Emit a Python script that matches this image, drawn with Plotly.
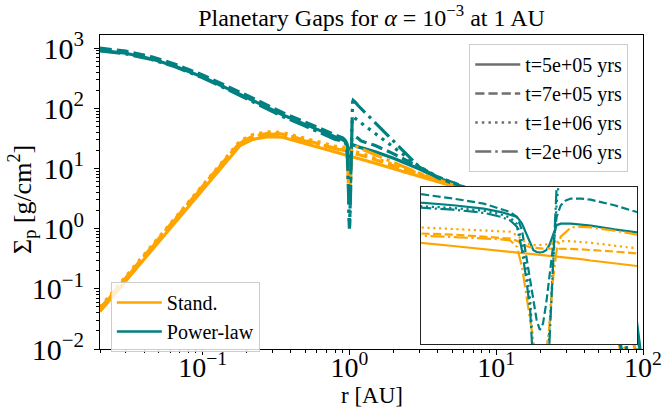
import numpy as np
import plotly.graph_objects as go

# ---------------- data ----------------
R = [0.02, 0.03, 0.045, 0.065, 0.1, 0.14, 0.18, 0.22, 0.28, 0.35, 0.5, 0.65,
     0.8, 0.85, 0.9, 0.93, 0.946, 0.958, 0.967, 0.975, 0.982, 0.988, 0.994, 1.0,
     1.006, 1.012, 1.018, 1.025, 1.032, 1.04, 1.05, 1.06, 1.08, 1.1, 1.15, 1.2,
     1.5, 2.0, 3.0, 4.0, 5.5, 8, 12, 20, 30, 45, 60, 70, 80, 90, 100]

TIMES = ["t=5e+05 yrs", "t=7e+05 yrs", "t=1e+06 yrs", "t=2e+06 yrs"]
MODELS = ["Stand.", "Power-law"]

# Standard model (orange)
STAND_T1 = [0.042, 0.136, 0.44, 1.28, 4.47, 11.8, 24.0, 30.5, 33.8, 33.0, 26.0, 22.0,
            19.1, 18.3, 17.6, 17.2, 16.9, 16.8, 16.7, 16.6, 16.5, 16.4, 16.4, 16.3,
            16.2, 16.1, 16.1, 16.0, 15.9, 15.8, 15.7, 15.6, 15.4, 15.1, 14.7, 14.3,
            12.2, 9.9, 7.3, 6.0, 4.8, 3.5, 2.4, 1.35, 0.8, 0.42, 0.22, 0.13, 0.07, 0.025, 0.004]
STAND_T2 = [0.047, 0.154, 0.50, 1.45, 5.05, 13.3, 27.0, 34.5, 38.2, 37.3, 29.4, 24.9,
            21.6, 21.3, 20.7, 20.4, 20.2, 19.6, 18.8, 18.3, 18.0, 17.9, 17.8, 17.8,
            17.7, 17.7, 17.7, 17.7, 17.7, 17.7, 17.6, 17.6, 17.5, 17.4, 17.0, 16.6,
            14.0, 11.0, 7.8, 6.3, 4.95, 3.55, 2.4, 1.3, 0.78, 0.38, 0.18, 0.08, 0.03, 0.008, 0.002]
STAND_T3 = [0.050, 0.163, 0.53, 1.54, 5.36, 14.2, 28.8, 36.6, 40.5, 39.6, 31.2, 26.4,
            23.4, 23.0, 22.6, 22.3, 22.1, 21.1, 19.9, 19.0, 18.7, 18.5, 18.5, 18.5,
            18.6, 18.7, 18.8, 19.0, 19.3, 19.5, 19.5, 19.5, 19.3, 19.1, 18.4, 17.9,
            14.8, 11.5, 8.0, 6.4, 5.0, 3.55, 2.4, 1.3, 0.75, 0.35, 0.11, 0.025, 0.005, 0.002, 0.001]
STAND_T4 = [0.046, 0.150, 0.48, 1.41, 4.9, 13.0, 26.4, 33.5, 37.2, 36.3, 28.6, 24.2,
            21.0, 20.6, 20.3, 20.0, 19.7, 18.1, 13.9, 9.35, 6.3, 4.5, 3.5, 3.0,
            3.2, 4.5, 6.3, 11.7, 17.3, 20.7, 22.1, 23.4, 23.6, 23.4, 22.4, 21.3,
            17.0, 12.5, 8.3, 6.5, 5.0, 3.5, 2.35, 1.25, 0.7, 0.3, 0.07, 0.01, 0.002, 0.001, 0.0008]

# Power-law model (teal)
POWER_T1 = [920, 820, 660, 500, 330, 230, 170, 135, 100, 78, 54, 41,
            32.5, 31.4, 30.0, 28.7, 27.5, 26.9, 24.6, 21.6, 19.3, 17.3, 16.9, 16.8,
            16.9, 17.3, 18.5, 21.1, 24.1, 24.6, 24.6, 24.6, 24.3, 24.0, 22.8, 22.1,
            19.0, 14.8, 9.8, 7.0, 5.3, 3.7, 2.5, 1.4, 0.85, 0.45, 0.25, 0.15, 0.08, 0.03, 0.004]
POWER_T2 = [1000, 890, 715, 540, 358, 250, 185, 147, 109, 85, 59, 44.5,
            36.3, 34.3, 32.1, 30.0, 28.7, 26.9, 22.6, 15.9, 11.7, 8.56, 6.87, 6.02,
            6.57, 8.56, 12.2, 18.1, 26.9, 31.4, 33.5, 34.3, 34.3, 33.8, 31.4, 28.7,
            24.0, 17.5, 10.5, 7.2, 5.4, 3.7, 2.5, 1.35, 0.8, 0.4, 0.2, 0.1, 0.04, 0.01, 0.002]
POWER_T3 = [930, 830, 665, 500, 330, 228, 168, 132, 97, 75, 52, 39.5,
            31.0, 30.3, 29.2, 27.8, 26.6, 24.5, 19.5, 13.5, 9.0, 4.5, 2.0, 1.3,
            1.5, 2.5, 6.0, 15.0, 32.0, 55.0, 68.0, 72.0, 69.5, 67.3, 62.0, 57.4,
            38.0, 22.5, 10.7, 7.2, 5.4, 3.6, 2.4, 1.3, 0.75, 0.35, 0.12, 0.03, 0.006, 0.002, 0.001]
POWER_T4 = [900, 800, 645, 488, 322, 222, 163, 128, 94, 73, 50.5, 38.5,
            30.4, 29.6, 28.4, 26.9, 25.7, 23.6, 17.3, 11.7, 7.84, 3.5, 1.5, 1.0,
            1.2, 2.0, 5.0, 16.6, 40.0, 80.0, 125.0, 135.0, 131.0, 125.0, 110.0, 99.0,
            57.5, 28.4, 10.5, 7.0, 5.3, 3.5, 2.3, 1.2, 0.7, 0.3, 0.08, 0.012, 0.003, 0.001, 0.0008]

X_TICKS = [0.1, 1, 10, 100]
X_TICKTEXT = ["10<sup>−1</sup>", "10<sup>0</sup>", "10<sup>1</sup>", "10<sup>2</sup>"]
Y_TICKS = [0.01, 0.1, 1, 10, 100, 1000]
Y_TICKTEXT = ["10<sup>−2</sup>", "10<sup>−1</sup>", "10<sup>0</sup>", "10<sup>1</sup>",
              "10<sup>2</sup>", "10<sup>3</sup>"]

TITLE = "Planetary Gaps for <i>α</i> = 10<sup>−3</sup> at 1 AU"
XLABEL = "r [AU]"
YLABEL = "Σ<sub>p</sub> [g/cm<sup>2</sup>]"

# ---------------- style ----------------
FONT = "Liberation Serif"
ORANGE = "#FFA500"
TEAL = "#008080"
GREY = "#6f6f6f"
LW = 3.2
LW_IN = 2.2


def dash_for(i, lw):
    pats = [None, (3.7, 1.6), (1.0, 1.65), (6.4, 1.6, 1.0, 1.6)]
    p = pats[i]
    if p is None:
        return "solid"
    return ",".join(f"{v * lw:.1f}px" for v in p)


XR_MAIN = [np.log10(0.02), 2.0]
YR_MAIN = [-2.0, np.log10(1650)]
XR_IN = [0.8, 1.2]
YR_IN = [5.0, 40.0]

fig = go.Figure()

stand = [STAND_T1, STAND_T2, STAND_T3, STAND_T4]
power = [POWER_T1, POWER_T2, POWER_T3, POWER_T4]

# main panel
for i in range(4):
    for series, col in ((stand[i], ORANGE), (power[i], TEAL)):
        fig.add_trace(go.Scatter(x=R, y=series, mode="lines",
                                 line=dict(color=col, width=LW, dash=dash_for(i, LW)),
                                 showlegend=False, hoverinfo="skip"))

# inset background (white panel covering the main lines)
fig.add_trace(go.Scatter(x=[XR_IN[0], XR_IN[1], XR_IN[1], XR_IN[0], XR_IN[0]],
                         y=[YR_IN[0], YR_IN[0], YR_IN[1], YR_IN[1], YR_IN[0]],
                         mode="lines", fill="toself", fillcolor="white",
                         line=dict(width=0, color="white"),
                         xaxis="x2", yaxis="y2", showlegend=False, hoverinfo="skip"))
for i in range(4):
    for series, col in ((stand[i], ORANGE), (power[i], TEAL)):
        fig.add_trace(go.Scatter(x=R, y=series, mode="lines", xaxis="x2", yaxis="y2",
                                 line=dict(color=col, width=LW_IN, dash=dash_for(i, LW_IN)),
                                 showlegend=False, hoverinfo="skip"))

# legend entries
for i, t in enumerate(TIMES):
    fig.add_trace(go.Scatter(x=[None], y=[None], mode="lines", name=t,
                             line=dict(color=GREY, width=2.5, dash=dash_for(i, 2.5)),
                             legend="legend"))
for name, col in zip(MODELS, [ORANGE, TEAL]):
    fig.add_trace(go.Scatter(x=[None], y=[None], mode="lines", name=name,
                             line=dict(color=col, width=2.5), legend="legend2"))

minor_x = [k * 10.0 ** e for e in range(-2, 2) for k in range(2, 10)]
minor_y = [k * 10.0 ** e for e in range(-2, 4) for k in range(2, 10)]

fig.update_layout(
    width=662, height=407,
    margin=dict(l=100, r=19, t=35, b=58, autoexpand=False),
    paper_bgcolor="white", plot_bgcolor="white",
    font=dict(family=FONT, color="black"),
    title=dict(text=TITLE,
               x=0.5, xref="paper", xanchor="center",
               y=1 - 18 / 407, yref="container", yanchor="middle",
               font=dict(family=FONT, size=24)),
    xaxis=dict(type="log", range=XR_MAIN, domain=[0, 1], automargin=False,
               showline=True, mirror=True, linecolor="black", linewidth=1,
               showgrid=False, zeroline=False,
               ticks="outside", ticklen=5, tickwidth=1, tickcolor="black",
               tickvals=X_TICKS, ticktext=X_TICKTEXT, ticklabeloverflow="allow",
               ticklabelstandoff=-12,
               tickfont=dict(family=FONT, size=28),
               minor=dict(tickvals=minor_x, ticks="outside", ticklen=3,
                          tickcolor="black", showgrid=False)),
    yaxis=dict(type="log", range=YR_MAIN, domain=[0, 1], automargin=False,
               showline=True, mirror=True, linecolor="black", linewidth=1,
               showgrid=False, zeroline=False,
               ticks="outside", ticklen=5, tickwidth=1, tickcolor="black",
               tickvals=Y_TICKS, ticktext=Y_TICKTEXT, ticklabeloverflow="allow",
               ticklabelstandoff=4,
               tickfont=dict(family=FONT, size=30),
               minor=dict(tickvals=minor_y, ticks="outside", ticklen=3,
                          tickcolor="black", showgrid=False)),
    xaxis2=dict(type="log", range=[np.log10(v) for v in XR_IN],
                domain=[0.591, 0.989], anchor="y2", automargin=False,
                showline=True, mirror=True, linecolor="#222222", linewidth=1.3,
                showgrid=False, zeroline=False, ticks="", showticklabels=False),
    yaxis2=dict(type="log", range=[np.log10(v) for v in YR_IN],
                domain=[0.016, 0.516], anchor="x2", automargin=False,
                showline=True, mirror=True, linecolor="#222222", linewidth=1.3,
                showgrid=False, zeroline=False, ticks="", showticklabels=False),
    legend=dict(x=0.68, y=0.971, xanchor="left", yanchor="top",
                bgcolor="rgba(255,255,255,0.8)", bordercolor="#cccccc", borderwidth=1,
                font=dict(family=FONT, size=20), tracegroupgap=0, itemwidth=45),
    legend2=dict(x=0.02, y=0.213, xanchor="left", yanchor="top",
                 bgcolor="rgba(255,255,255,0.8)", bordercolor="#cccccc", borderwidth=1,
                 font=dict(family=FONT, size=20), tracegroupgap=0, itemwidth=45),
    annotations=[
        dict(text=XLABEL, xref="paper", yref="paper", x=0.5, y=-(395 - 349) / 314,
             xanchor="center", yanchor="middle", showarrow=False,
             font=dict(family=FONT, size=23)),
        dict(text=YLABEL, xref="paper", yref="paper", x=-(100 - 22) / 543,
             y=(349 - 200) / 314, xanchor="center", yanchor="middle",
             showarrow=False, textangle=-90, font=dict(family=FONT, size=26)),
    ],
)

fig.write_html("out.html")
